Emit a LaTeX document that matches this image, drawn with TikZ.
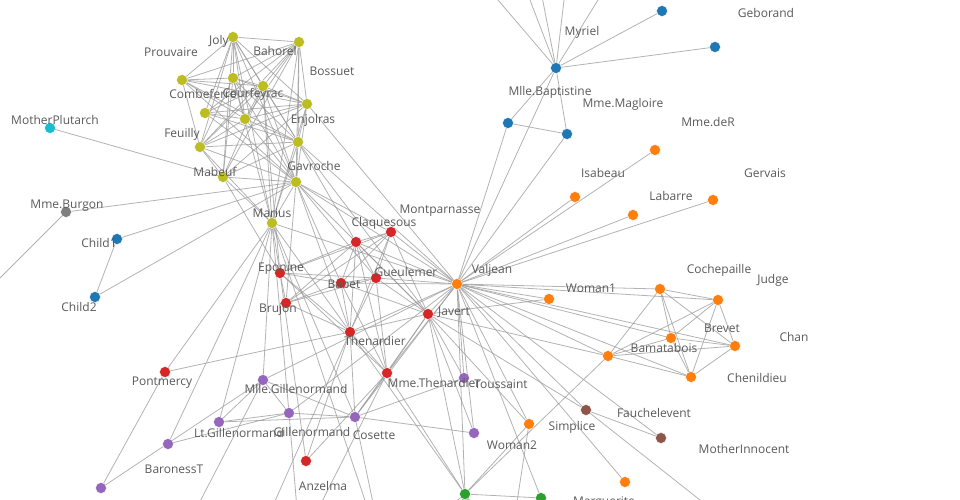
\documentclass[tikz,border=0pt]{standalone}
\usepackage{fontspec}
\setmainfont{Open Sans}
\usepackage{tikz}
\usetikzlibrary{calc}

\definecolor{cblue}{HTML}{1F77B4}
\definecolor{corange}{HTML}{FF7F0E}
\definecolor{cgreen}{HTML}{2CA02C}
\definecolor{cred}{HTML}{D62728}
\definecolor{cpurple}{HTML}{9467BD}
\definecolor{cbrown}{HTML}{8C564B}
\definecolor{cgray}{HTML}{7F7F7F}
\definecolor{colive}{HTML}{BCBD22}
\definecolor{ccyan}{HTML}{17BECF}
\definecolor{linkgray}{HTML}{999999}
\definecolor{textgray}{HTML}{595959}

\begin{document}
\begin{tikzpicture}[x=1pt,y=-1pt,
	link/.style={draw=linkgray, line width=0.8pt, draw opacity=0.75},
	dot/.style={draw=white, line width=0.4pt},
	lbl/.style={text=textgray, inner sep=0pt, font=\fontsize{12}{14}\selectfont}]
	
	\path[use as bounding box] (0,0) rectangle (960,500);
	\clip (0,0) rectangle (960,500);
	
	% Myriel group
	\coordinate (Myriel) at (556,68);
	\coordinate (Napoleon) at (662,11);
	\coordinate (MlleBaptistine) at (508,123);
	\coordinate (MmeMagloire) at (567,134);
	\coordinate (CountessdeLo) at (469,-34);
	\coordinate (Geborand) at (715,47);
	\coordinate (Champtercier) at (517,-34);
	\coordinate (Cravatte) at (536,-34);
	\coordinate (Count) at (568,-34);
	\coordinate (OldMan) at (619,-34);
	
	% Valjean group
	\coordinate (Valjean) at (457,284);
	\coordinate (Labarre) at (633,215);
	\coordinate (MmedeR) at (655,150);
	\coordinate (Isabeau) at (575,197);
	\coordinate (Gervais) at (713,200);
	\coordinate (Bamatabois) at (608,356);
	\coordinate (Simplice) at (529,424);
	\coordinate (Scaufflaire) at (625,482);
	\coordinate (Woman1) at (549,299);
	\coordinate (Judge) at (718,300);
	\coordinate (Champmathieu) at (735,346);
	\coordinate (Brevet) at (671,338);
	\coordinate (Chenildieu) at (691,377);
	\coordinate (Cochepaille) at (660,289);
	
	% Fantine group
	\coordinate (Fantine) at (465,494);
	\coordinate (Marguerite) at (541,498);
	\coordinate (Tholomyes) at (385,560);
	\coordinate (Listolier) at (420,585);
	\coordinate (Fameuil) at (445,600);
	\coordinate (Blacheville) at (470,590);
	\coordinate (Favourite) at (500,600);
	\coordinate (Dahlia) at (530,585);
	\coordinate (Zephine) at (440,560);
	\coordinate (Perpetue) at (505,580);
	
	% Thenardier group
	\coordinate (MmeThenardier) at (387,373);
	\coordinate (Thenardier) at (350,332);
	\coordinate (Javert) at (428,314);
	\coordinate (Pontmercy) at (165,372);
	\coordinate (Eponine) at (280,273);
	\coordinate (Anzelma) at (306,461);
	\coordinate (Gueulemer) at (376,278);
	\coordinate (Babet) at (341,283);
	\coordinate (Claquesous) at (356,242);
	\coordinate (Montparnasse) at (391,232);
	\coordinate (Brujon) at (286,303);
	
	% Cosette group
	\coordinate (Cosette) at (355,417);
	\coordinate (Woman2) at (474,433);
	\coordinate (Toussaint) at (464,378);
	\coordinate (Gillenormand) at (289,413);
	\coordinate (MlleGillenormand) at (263,380);
	\coordinate (LtGillenormand) at (219,422);
	\coordinate (BaronessT) at (168,444);
	\coordinate (MmePontmercy) at (101,488);
	\coordinate (Magnon) at (300,545);
	\coordinate (MlleVaubois) at (180,540);
	
	% others
	\coordinate (Fauchelevent) at (586,410);
	\coordinate (MotherInnocent) at (661,438);
	\coordinate (Gribier) at (757,545);
	\coordinate (Boulatruelle) at (240,580);
	\coordinate (Jondrette) at (-20,298);
	\coordinate (MmeBurgon) at (66,212);
	\coordinate (MotherPlutarch) at (50,128);
	\coordinate (Child1) at (117,239);
	\coordinate (Child2) at (95,297);
	
	% barricade
	\coordinate (Gavroche) at (296,182);
	\coordinate (Marius) at (272,223);
	\coordinate (Mabeuf) at (223,177);
	\coordinate (Enjolras) at (298,142);
	\coordinate (Combeferre) at (233,78);
	\coordinate (Prouvaire) at (182,80);
	\coordinate (Feuilly) at (200,147);
	\coordinate (Courfeyrac) at (263,86);
	\coordinate (Bahorel) at (299,42);
	\coordinate (Bossuet) at (307,104);
	\coordinate (Joly) at (233,37);
	\coordinate (Grantaire) at (245,119);
	\coordinate (MmeHucheloup) at (205,113);
	
	% links
	\path[link] (Myriel) edge (Napoleon) edge (MlleBaptistine) edge (MmeMagloire) edge (CountessdeLo) edge (Geborand) edge (Champtercier) edge (Cravatte) edge (Count) edge (OldMan);
	\path[link] (MmeMagloire) edge (MlleBaptistine);
	\path[link] (Valjean) edge (Labarre) edge (MmeMagloire) edge (MlleBaptistine) edge (Myriel) edge (Marguerite) edge (MmedeR) edge (Isabeau) edge (Gervais) edge (Fantine) edge (MmeThenardier) edge (Thenardier) edge (Cosette) edge (Javert) edge (Fauchelevent) edge (Bamatabois) edge (Simplice) edge (Scaufflaire) edge (Woman1) edge (Judge) edge (Champmathieu) edge (Brevet) edge (Chenildieu) edge (Cochepaille) edge (Woman2) edge (MotherInnocent) edge (Gavroche) edge (Gillenormand) edge (MlleGillenormand) edge (Marius) edge (Enjolras) edge (Bossuet) edge (Gueulemer) edge (Babet) edge (Claquesous) edge (Montparnasse) edge (Toussaint);
	\path[link] (Fantine) edge (Tholomyes) edge (Listolier) edge (Fameuil) edge (Blacheville) edge (Favourite) edge (Dahlia) edge (Zephine) edge (Marguerite) edge (MmeThenardier) edge (Thenardier) edge (Javert) edge (Bamatabois) edge (Perpetue) edge (Simplice);
	\path[link] (MmeThenardier) edge (Thenardier) edge (Cosette) edge (Javert) edge (Eponine) edge (Anzelma) edge (Magnon) edge (Gueulemer) edge (Babet) edge (Claquesous);
	\path[link] (Thenardier) edge (Cosette) edge (Javert) edge (Pontmercy) edge (Boulatruelle) edge (Eponine) edge (Anzelma) edge (Gavroche) edge (Marius) edge (Gueulemer) edge (Babet) edge (Claquesous) edge (Montparnasse) edge (Brujon);
	\path[link] (Cosette) edge (Tholomyes) edge (Javert) edge (Woman2) edge (Gillenormand) edge (MlleGillenormand) edge (LtGillenormand) edge (Marius) edge (Toussaint);
	\path[link] (Javert) edge (Fauchelevent) edge (Bamatabois) edge (Simplice) edge (Woman1) edge (Woman2) edge (Gavroche) edge (Enjolras) edge (Gueulemer) edge (Babet) edge (Claquesous) edge (Montparnasse) edge (Toussaint);
	\path[link] (Fauchelevent) edge (MotherInnocent) edge (Gribier);
	\path[link] (Simplice) edge (Perpetue);
	\path[link] (Bamatabois) edge (Judge) edge (Champmathieu) edge (Brevet) edge (Chenildieu) edge (Cochepaille);
	\path[link] (Judge) edge (Champmathieu) edge (Brevet) edge (Chenildieu) edge (Cochepaille);
	\path[link] (Champmathieu) edge (Brevet) edge (Chenildieu) edge (Cochepaille);
	\path[link] (Brevet) edge (Chenildieu) edge (Cochepaille);
	\path[link] (Chenildieu) edge (Cochepaille);
	\path[link] (Pontmercy) edge (MmePontmercy) edge (Marius);
	\path[link] (Eponine) edge (Anzelma) edge (Marius) edge (Mabeuf) edge (Courfeyrac) edge (Gueulemer) edge (Babet) edge (Claquesous) edge (Montparnasse) edge (Brujon);
	\path[link] (MmeBurgon) edge (Jondrette) edge (Gavroche);
	\path[link] (Gavroche) edge (Marius) edge (Mabeuf) edge (Enjolras) edge (Combeferre) edge (Prouvaire) edge (Feuilly) edge (Courfeyrac) edge (Bahorel) edge (Bossuet) edge (Joly) edge (Grantaire) edge (Gueulemer) edge (Babet) edge (Montparnasse) edge (Child1) edge (Child2) edge (Brujon) edge (MmeHucheloup);
	\path[link] (Gillenormand) edge (Magnon) edge (MlleGillenormand) edge (LtGillenormand) edge (Marius) edge (BaronessT);
	\path[link] (MlleGillenormand) edge (MmePontmercy) edge (MlleVaubois) edge (LtGillenormand) edge (Marius);
	\path[link] (LtGillenormand) edge (Marius);
	\path[link] (Marius) edge (Tholomyes) edge (BaronessT) edge (Mabeuf) edge (Enjolras) edge (Combeferre) edge (Feuilly) edge (Courfeyrac) edge (Bahorel) edge (Bossuet) edge (Joly);
	\path[link] (Mabeuf) edge (Enjolras) edge (Combeferre) edge (Feuilly) edge (Courfeyrac) edge (Bahorel) edge (Bossuet) edge (Joly) edge (MotherPlutarch);
	\path[link] (Enjolras) edge (Combeferre) edge (Prouvaire) edge (Feuilly) edge (Courfeyrac) edge (Bahorel) edge (Bossuet) edge (Joly) edge (Grantaire) edge (Claquesous) edge (MmeHucheloup);
	\path[link] (Combeferre) edge (Prouvaire) edge (Feuilly) edge (Courfeyrac) edge (Bahorel) edge (Bossuet) edge (Joly) edge (Grantaire);
	\path[link] (Prouvaire) edge (Feuilly) edge (Courfeyrac) edge (Bahorel) edge (Bossuet) edge (Joly) edge (Grantaire);
	\path[link] (Feuilly) edge (Courfeyrac) edge (Bahorel) edge (Bossuet) edge (Joly) edge (Grantaire);
	\path[link] (Courfeyrac) edge (Bahorel) edge (Bossuet) edge (Joly) edge (Grantaire) edge (MmeHucheloup);
	\path[link] (Bahorel) edge (Bossuet) edge (Joly) edge (Grantaire) edge (MmeHucheloup);
	\path[link] (Bossuet) edge (Joly) edge (Grantaire) edge (MmeHucheloup);
	\path[link] (Joly) edge (Grantaire) edge (MmeHucheloup);
	\path[link] (Grantaire) edge (MmeHucheloup);
	\path[link] (Gueulemer) edge (Babet) edge (Claquesous) edge (Montparnasse) edge (Brujon);
	\path[link] (Babet) edge (Claquesous) edge (Montparnasse) edge (Brujon);
	\path[link] (Claquesous) edge (Montparnasse) edge (Brujon);
	\path[link] (Montparnasse) edge (Brujon);
	\path[link] (Child1) edge (Child2);
	
	% dots
	\filldraw[dot, fill=cblue] (Myriel) circle[radius=5.5] (Napoleon) circle[radius=5.5] (MlleBaptistine) circle[radius=5.5] (MmeMagloire) circle[radius=5.5] (Geborand) circle[radius=5.5] (Child1) circle[radius=5.5] (Child2) circle[radius=5.5];
	\filldraw[dot, fill=corange] (Valjean) circle[radius=5.5] (Labarre) circle[radius=5.5] (MmedeR) circle[radius=5.5] (Isabeau) circle[radius=5.5] (Gervais) circle[radius=5.5] (Bamatabois) circle[radius=5.5] (Simplice) circle[radius=5.5] (Scaufflaire) circle[radius=5.5] (Woman1) circle[radius=5.5] (Judge) circle[radius=5.5] (Champmathieu) circle[radius=5.5] (Brevet) circle[radius=5.5] (Chenildieu) circle[radius=5.5] (Cochepaille) circle[radius=5.5];
	\filldraw[dot, fill=cgreen] (Fantine) circle[radius=5.5] (Marguerite) circle[radius=5.5];
	\filldraw[dot, fill=cred] (MmeThenardier) circle[radius=5.5] (Thenardier) circle[radius=5.5] (Javert) circle[radius=5.5] (Pontmercy) circle[radius=5.5] (Eponine) circle[radius=5.5] (Anzelma) circle[radius=5.5] (Gueulemer) circle[radius=5.5] (Babet) circle[radius=5.5] (Claquesous) circle[radius=5.5] (Montparnasse) circle[radius=5.5] (Brujon) circle[radius=5.5];
	\filldraw[dot, fill=cpurple] (Cosette) circle[radius=5.5] (Woman2) circle[radius=5.5] (Toussaint) circle[radius=5.5] (Gillenormand) circle[radius=5.5] (MlleGillenormand) circle[radius=5.5] (LtGillenormand) circle[radius=5.5] (BaronessT) circle[radius=5.5] (MmePontmercy) circle[radius=5.5];
	\filldraw[dot, fill=cbrown] (Fauchelevent) circle[radius=5.5] (MotherInnocent) circle[radius=5.5];
	\filldraw[dot, fill=cgray] (MmeBurgon) circle[radius=5.5];
	\filldraw[dot, fill=ccyan] (MotherPlutarch) circle[radius=5.5];
	\filldraw[dot, fill=colive] (Gavroche) circle[radius=5.5] (Marius) circle[radius=5.5] (Mabeuf) circle[radius=5.5] (Enjolras) circle[radius=5.5] (Combeferre) circle[radius=5.5] (Prouvaire) circle[radius=5.5] (Feuilly) circle[radius=5.5] (Courfeyrac) circle[radius=5.5] (Bahorel) circle[radius=5.5] (Bossuet) circle[radius=5.5] (Joly) circle[radius=5.5] (Grantaire) circle[radius=5.5] (MmeHucheloup) circle[radius=5.5];
	
	% labels
	\node[lbl] (tGeborand) at (766,13) {Geborand};
	\node[lbl] (tMyriel) at (582,32) {Myriel};
	\node[lbl] (tMlleBaptistine) at (550,92) {Mlle.Baptistine};
	\node[lbl] (tMmeMagloire) at (623,104) {Mme.Magloire};
	\node[lbl] (tMmedeR) at (708,122) {Mme.deR};
	\node[lbl] (tIsabeau) at (603,173) {Isabeau};
	\node[lbl] (tGervais) at (765,173) {Gervais};
	\node[lbl] (tLabarre) at (671,196) {Labarre};
	\node[lbl] (tMontparnasse) at (440,211) {Montparnasse};
	\node[lbl] (tClaquesous) at (384,223) {Claquesous};
	\node[lbl] (tJoly) at (219,41) {Joly};
	\node[lbl] (tBahorel) at (275,51) {Bahorel};
	\node[lbl] (tProuvaire) at (171,52) {Prouvaire};
	\node[lbl] (tBossuet) at (332,71) {Bossuet};
	\node[lbl] (tCombeferre) at (203,94) {Combeferre};
	\node[lbl] (tCourfeyrac) at (253,94) {Courfeyrac};
	\node[lbl] (tMotherPlutarch) at (55,120) {MotherPlutarch};
	\node[lbl] (tEnjolras) at (313,120) {Enjolras};
	\node[lbl] (tFeuilly) at (182,134) {Feuilly};
	\node[lbl] (tGavroche) at (314,166) {Gavroche};
	\node[lbl] (tMabeuf) at (215,172) {Mabeuf};
	\node[lbl] (tMmeBurgon) at (67,206) {Mme.Burgon};
	\node[lbl] (tMarius) at (272,213) {Marius};
	\node[lbl] (tChild1) at (99,243) {Child1};
	\node[lbl] (tChild2) at (79,307) {Child2};
	\node[lbl] (tEponine) at (281,269) {Eponine};
	\node[lbl] (tGueulemer) at (406,272) {Gueulemer};
	\node[lbl] (tBabet) at (344,284) {Babet};
	\node[lbl] (tBrujon) at (278,310) {Brujon};
	\node[lbl] (tValjean) at (492,270) {Valjean};
	\node[lbl] (tJavert) at (454,312) {Javert};
	\node[lbl] (tThenardier) at (375,341) {Thenardier};
	\node[lbl] (tWoman1) at (591,288) {Woman1};
	\node[lbl] (tCochepaille) at (719,270) {Cochepaille};
	\node[lbl] (tJudge) at (773,280) {Judge};
	\node[lbl] (tBrevet) at (722,328) {Brevet};
	\node[lbl] (tChan) at (794,337) {Chan};
	\node[lbl] (tBamatabois) at (664,348) {Bamatabois};
	\node[lbl] (tChenildieu) at (757,378) {Chenildieu};
	\node[lbl] (tPontmercy) at (162,383) {Pontmercy};
	\node[lbl] (tMlleGillenormand) at (296,389) {Mlle.Gillenormand};
	\node[lbl] (tMmeThenardier) at (434,383) {Mme.Thenardier};
	\node[lbl] (tToussaint) at (501,384) {Toussaint};
	\node[lbl] (tFauchelevent) at (654,413) {Fauchelevent};
	\node[lbl] (tSimplice) at (572,427) {Simplice};
	\node[lbl] (tLtGillenormand) at (239,433) {Lt.Gillenormand};
	\node[lbl] (tGillenormand) at (312,432) {Gillenormand};
	\node[lbl] (tCosette) at (374,435) {Cosette};
	\node[lbl] (tWoman2) at (512,445) {Woman2};
	\node[lbl] (tMotherInnocent) at (744,449) {MotherInnocent};
	\node[lbl] (tBaronessT) at (174,469) {BaronessT};
	\node[lbl] (tAnzelma) at (323,486) {Anzelma};
	\node[lbl] (tMarguerite) at (604,503) {Marguerite};
	
\end{tikzpicture}
\end{document}
